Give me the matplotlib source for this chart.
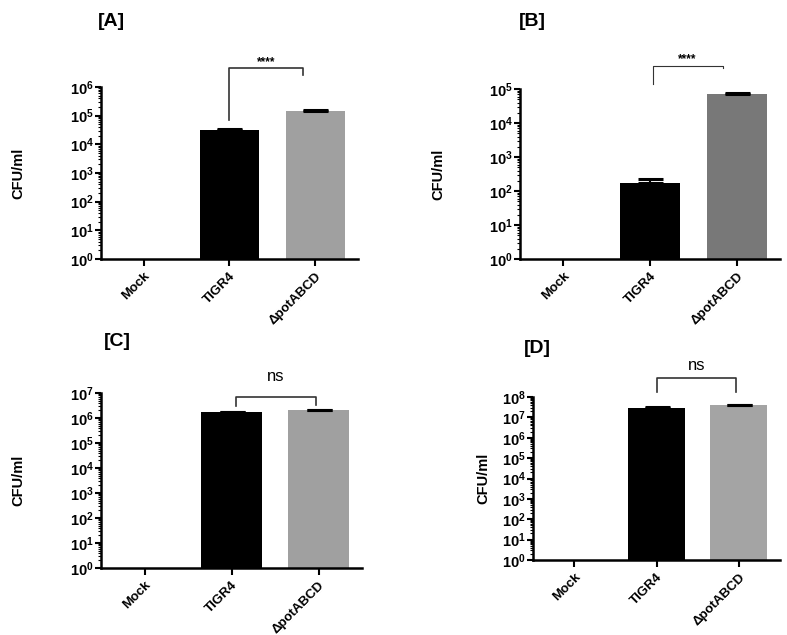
import numpy as np
import matplotlib
matplotlib.use("Agg")
import matplotlib.pyplot as plt
from matplotlib.ticker import LogLocator, FixedLocator, FixedFormatter, NullFormatter

plt.rcParams['font.family'] = ['Liberation Sans', 'DejaVu Sans']
plt.rcParams['mathtext.fontset'] = 'custom'
plt.rcParams['mathtext.rm'] = 'Liberation Sans'
plt.rcParams['mathtext.bf'] = 'Liberation Sans:bold'

categories = ["Mock", "TIGR4", "\u0394potABCD"]

# panel data (CFU/ml), Mock = 0 (none detected)
vals_A = [0, 3.2e4, 1.45e5]
err_A = [0, 1.0e3, 1.5e4]
vals_B = [0, 175, 7.1e4]
err_B = [0, 50, 5.0e3]
vals_C = [0, 1.7e6, 2.0e6]
err_C = [0, 6.0e4, 1.5e5]
vals_D = [0, 2.8e7, 3.9e7]
err_D = [0, 3.0e6, 3.5e6]

ymax_exp = {"A": 6, "B": 5, "C": 7, "D": 8}
titles = ["[A]", "[B]", "[C]", "[D]"]
sig = {"A": "****", "B": "****", "C": "ns", "D": "ns"}

W, H = 787, 635
fig = plt.figure(figsize=(W / 100, H / 100), dpi=100)

def add_ax(l, r, t, b):
    return fig.add_axes([l / W, 1 - b / H, (r - l) / W, (b - t) / H])

panels = [
    ("A", add_ax(101, 358, 87, 259), vals_A, err_A, "#a0a0a0"),
    ("B", add_ax(520, 780, 89, 259), vals_B, err_B, "#787878"),
    ("C", add_ax(101, 362, 393, 568), vals_C, err_C, "#a0a0a0"),
    ("D", add_ax(533, 780, 397, 560), vals_D, err_D, "#a4a4a4"),
]

# bracket specs: (left x, right x, left leg bottom, top, right leg bottom) in data units
brackets = {
    "A": (1.0, 1.86, 7e4, 4.5e6, 2.6e6),
    "B": (1.03, 1.84, 1.4e5, 4.8e5, 4.2e5),
    "C": (1.05, 1.97, 3.0e6, 6.9e6, 3.2e6),
    "D": (1.0, 1.97, 1.7e8, 8.3e8, 1.7e8),
}
label_pos = {"A": 4.6e6, "B": 4.9e5, "C": 2.3e7, "D": 1.5e9}

x = np.arange(len(categories))
for key, ax, vals, errs, gcol in panels:
    v = np.array(vals, dtype=float)
    e = np.array(errs, dtype=float)
    heights = np.maximum(v, 1) - 1
    colors = ["black", "black", gcol]
    ax.bar(x, heights, bottom=1, width=0.69, color=colors, edgecolor='none', zorder=2)
    for xi, vi, ei in zip(x, v, e):
        if vi > 1:
            ax.errorbar(xi, vi, yerr=[[0], [ei]], fmt='none', ecolor='black',
                        elinewidth=1.5, capsize=9, capthick=2.2, zorder=3)
    ax.set_yscale('log')
    top = ymax_exp[key]
    ax.set_ylim(1, 10 ** top)
    ax.set_xlim(-0.5, 2.5)
    exps = list(range(0, top + 1))
    ax.yaxis.set_major_locator(FixedLocator([10.0 ** k for k in exps]))
    ax.yaxis.set_major_formatter(FixedFormatter([r'$\mathbf{10^{%d}}$' % k for k in exps]))
    ax.yaxis.set_minor_locator(LogLocator(base=10, subs=np.arange(2, 10), numticks=20))
    ax.yaxis.set_minor_formatter(NullFormatter())
    ax.set_xticks(x)
    ax.set_xticklabels(categories, rotation=45, ha='right', rotation_mode='anchor',
                       fontsize=9.5, fontweight='bold')
    ax.tick_params(axis='y', which='major', labelsize=10.5, length=4, width=1.5, direction='out', pad=1)
    ax.tick_params(axis='y', which='minor', length=2, width=0.8, direction='out')
    ax.tick_params(axis='x', which='major', length=5, width=1.5, direction='out', pad=3)
    for s in ['top', 'right']:
        ax.spines[s].set_visible(False)
    for s in ['left', 'bottom']:
        ax.spines[s].set_linewidth(1.8)
    ax.set_ylabel("CFU/ml", fontsize=10.5, fontweight='bold')

    xl, xr, yl, yt, yr = brackets[key]
    lw = 0.8 if key == "B" else 1.2
    ax.plot([xl, xl, xr, xr], [yl, yt, yt, yr], color='#333333', lw=lw,
            clip_on=False, zorder=4)
    if sig[key] == "ns":
        ax.text((xl + xr) / 2, label_pos[key], "ns", ha='center', va='bottom',
                fontsize=12, clip_on=False)
    else:
        ax.text((xl + xr) / 2, label_pos[key], "****", ha='center', va='bottom',
                fontsize=8.5, fontweight='bold', clip_on=False)

# y label positions and titles
ylab_x = {"A": 25, "B": 445, "C": 25, "D": 490}
title_pos = {"A": (111, 21), "B": (532, 22), "C": (117, 341), "D": (537, 348)}
for (key, ax, *_), t in zip(panels, titles):
    bbox = ax.get_position()
    ax.yaxis.set_label_coords((ylab_x[key] / W - bbox.x0) / bbox.width, 0.5)
    tx, ty = title_pos[key]
    fig.text(tx / W, 1 - ty / H, t, fontsize=14, fontweight='bold', ha='center', va='center')

fig.savefig("out.png", dpi=100)
